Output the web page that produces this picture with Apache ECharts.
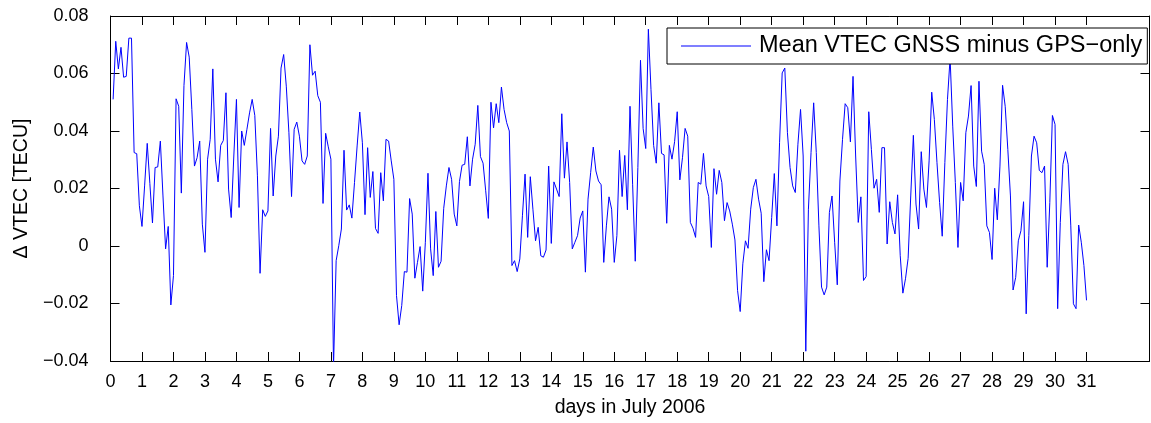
<!DOCTYPE html>
<html><head><meta charset="utf-8">
<script src="https://cdn.jsdelivr.net/npm/echarts@6/dist/echarts.min.js"></script>
<style>html,body{margin:0;padding:0;background:#fff}#c{width:1151px;height:423px}</style>
</head><body><div id="c"></div>
<script>
const dayTicks = [0,1,2,3,4,5,6,7,8,9,10,11,12,13,14,15,16,17,18,19,20,21,22,23,24,25,26,27,28,29,30,31];
const yTicks = [-0.04,-0.02,0,0.02,0.04,0.06,0.08];
const samplesPerDay = 12;
const seriesName = 'Mean VTEC GNSS minus GPS\u2212only';
const vtecDiff = [
0.0510,0.0712,0.0616,0.0691,0.0587,0.0590,0.0723,0.0723,0.0325,0.0321,
0.0140,0.0068,0.0209,0.0357,0.0218,0.0080,0.0273,0.0275,0.0365,0.0174,
-0.0010,0.0068,-0.0205,-0.0103,0.0512,0.0486,0.0184,0.0558,0.0708,0.0657,
0.0475,0.0278,0.0307,0.0365,0.0076,-0.0022,0.0302,0.0371,0.0616,0.0302,
0.0223,0.0350,0.0367,0.0533,0.0198,0.0099,0.0313,0.0510,0.0134,0.0400,
0.0350,0.0406,0.0463,0.0510,0.0454,0.0244,-0.0095,0.0126,0.0103,0.0122,
0.0409,0.0174,0.0313,0.0382,0.0619,0.0666,0.0556,0.0394,0.0172,0.0406,
0.0431,0.0382,0.0296,0.0284,0.0313,0.0700,0.0594,0.0608,0.0523,0.0500,
0.0148,0.0392,0.0345,0.0302,-0.0420,-0.0051,0.0001,0.0059,0.0333,0.0125,
0.0143,0.0097,0.0221,0.0348,0.0466,0.0359,0.0109,0.0342,0.0169,0.0259,
0.0061,0.0044,0.0255,0.0157,0.0371,0.0365,0.0296,0.0232,-0.0172,-0.0274,
-0.0207,-0.0089,-0.0091,0.0165,0.0111,-0.0112,-0.0057,-0.0002,-0.0157,0.0013,
0.0253,-0.0010,-0.0103,0.0120,-0.0074,-0.0053,0.0131,0.0209,0.0273,0.0232,
0.0111,0.0070,0.0224,0.0281,0.0284,0.0380,0.0209,0.0302,0.0354,0.0489,
0.0311,0.0288,0.0192,0.0096,0.0500,0.0411,0.0495,0.0429,0.0553,0.0475,
0.0429,0.0400,-0.0068,-0.0051,-0.0089,-0.0045,0.0105,0.0250,0.0030,0.0241,
0.0128,0.0018,0.0065,-0.0034,-0.0039,-0.0014,0.0278,0.0009,0.0223,0.0198,
0.0172,0.0460,0.0236,0.0362,0.0221,-0.0010,0.0013,0.0036,0.0097,0.0122,
-0.0091,0.0163,0.0255,0.0344,0.0261,0.0226,0.0213,-0.0057,0.0070,0.0171,
0.0128,-0.0057,0.0036,0.0333,0.0172,0.0315,0.0126,0.0486,0.0215,-0.0053,
0.0273,0.0646,0.0409,0.0339,0.0754,0.0544,0.0350,0.0288,0.0498,0.0322,
0.0317,0.0079,0.0350,0.0302,0.0363,0.0467,0.0230,0.0307,0.0409,0.0382,
0.0082,0.0062,0.0030,0.0221,0.0215,0.0322,0.0209,0.0172,-0.0005,0.0269,
0.0180,0.0263,0.0221,0.0088,0.0151,0.0122,0.0076,0.0021,-0.0155,-0.0228,
-0.0062,0.0018,-0.0008,0.0128,0.0203,0.0232,0.0163,0.0114,-0.0124,-0.0013,
-0.0051,0.0099,0.0252,0.0070,0.0359,0.0602,0.0619,0.0394,0.0273,0.0209,
0.0186,0.0354,0.0475,0.0313,-0.0366,0.0128,0.0325,0.0498,0.0325,0.0070,
-0.0143,-0.0170,-0.0143,0.0117,0.0174,0.0013,-0.0135,0.0226,0.0371,0.0495,
0.0481,0.0362,0.0590,0.0313,0.0082,0.0171,-0.0120,-0.0106,0.0467,0.0336,
0.0201,0.0232,0.0117,0.0342,0.0342,0.0007,0.0154,0.0082,0.0042,0.0178,
-0.0034,-0.0164,-0.0114,-0.0043,0.0174,0.0385,0.0146,0.0059,0.0328,0.0198,
0.0134,0.0296,0.0535,0.0440,0.0290,0.0151,0.0034,0.0290,0.0510,0.0654,
0.0417,0.0221,-0.0005,0.0221,0.0157,0.0394,0.0452,0.0558,0.0278,0.0207,
0.0573,0.0330,0.0284,0.0070,0.0047,-0.0047,0.0201,0.0091,0.0278,0.0559,
0.0486,0.0336,0.0174,-0.0153,-0.0109,0.0018,0.0053,0.0154,-0.0236,0.0036,
0.0313,0.0382,0.0359,0.0263,0.0255,0.0278,-0.0074,0.0151,0.0454,0.0423,
-0.0218,0.0082,0.0284,0.0328,0.0284,0.0070,-0.0201,-0.0218,0.0073,0.0013,
-0.0068,-0.0189
];

const FONT = '"Liberation Sans", Arial, Helvetica, sans-serif';
const data = vtecDiff.map((v, i) => [(i + 1) / samplesPerDay, v]);
const fmtY = v => {
  const r = Math.round(v * 100) / 100;
  if (r === 0) return '0';
  return (r < 0 ? '\u2212' : '') + Math.abs(r).toFixed(2);
};
const lineBlack = { show: true, onZero: false, lineStyle: { color: '#000', width: 1 } };
const chart = echarts.init(document.getElementById('c'), null, { renderer: 'canvas' });
chart.setOption({
  animation: false,
  backgroundColor: '#fff',
  grid: { left: 110.5, right: 1.5, top: 16, bottom: 61, containLabel: false },
  legend: {
    show: true,
    left: 667, top: 28,
    data: [{ name: seriesName, icon: 'rect' }],
    itemWidth: 70, itemHeight: 1.2,
    borderColor: '#000', borderWidth: 1, backgroundColor: '#fff',
    padding: [5, 5, 5, 14],
    textStyle: { fontFamily: FONT, fontSize: 23.5, color: '#000', lineHeight: 26, padding: [0, 0, 0, 3] }
  },
  xAxis: [{
    type: 'value', min: 0, max: 33, interval: 1, position: 'bottom',
    name: 'days in July 2006', nameLocation: 'middle', nameGap: 37,
    nameTextStyle: { fontFamily: FONT, fontSize: 19.5, color: '#000' },
    axisLine: lineBlack,
    axisTick: { show: true, inside: true, length: 9, customValues: dayTicks, lineStyle: { color: '#000' } },
    axisLabel: { show: true, customValues: dayTicks, fontFamily: FONT, fontSize: 18, color: '#000', margin: 12 },
    splitLine: { show: false }
  }, {
    type: 'value', min: 0, max: 33, interval: 1, position: 'top',
    axisLine: lineBlack,
    axisTick: { show: true, inside: true, length: 9, customValues: dayTicks, lineStyle: { color: '#000' } },
    axisLabel: { show: false }, splitLine: { show: false }
  }],
  yAxis: [{
    type: 'value', min: -0.04, max: 0.08, interval: 0.02, position: 'left',
    name: '\u0394 VTEC [TECU]', nameLocation: 'middle', nameGap: 58, nameRotate: 90,
    nameTextStyle: { fontFamily: FONT, fontSize: 19.5, color: '#000' },
    axisLine: lineBlack,
    axisTick: { show: true, inside: true, length: 9, lineStyle: { color: '#000' } },
    axisLabel: { show: true, fontFamily: FONT, fontSize: 18, color: '#000', margin: 22, formatter: fmtY },
    splitLine: { show: false }
  }, {
    type: 'value', min: -0.04, max: 0.08, interval: 0.02, position: 'right',
    axisLine: lineBlack,
    axisTick: { show: true, inside: true, length: 9, lineStyle: { color: '#000' } },
    axisLabel: { show: false }, splitLine: { show: false }
  }],
  series: [{
    name: seriesName, type: 'line', data: data,
    xAxisIndex: 0, yAxisIndex: 0,
    symbol: 'none', clip: true,
    lineStyle: { color: '#0000ff', width: 1 },
    itemStyle: { color: '#0000ff' }
  }]
});
</script>
</body></html>
